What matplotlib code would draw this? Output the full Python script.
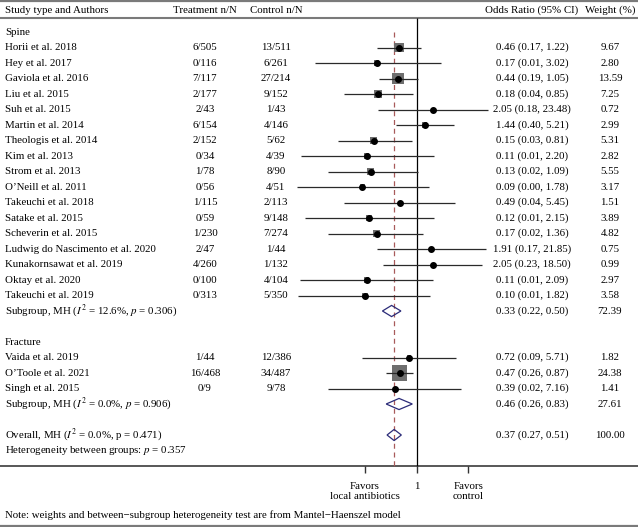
import numpy as np
import matplotlib
matplotlib.use('Agg')
import matplotlib.pyplot as plt
from matplotlib.patches import Polygon

plt.rcParams['font.family'] = 'Liberation Serif'
plt.rcParams['mathtext.fontset'] = 'stix'
plt.rcParams['font.size'] = 7.8

# spine studies
spine_names = ['Horii et al. 2018', 'Hey et al. 2017', 'Gaviola et al. 2016', 'Liu et al. 2015',
               'Suh et al. 2015', 'Martin et al. 2014', 'Theologis et al. 2014', 'Kim et al. 2013',
               'Strom et al. 2013', 'O\u2019Neill et al. 2011', 'Takeuchi et al. 2018', 'Satake et al. 2015',
               'Scheverin et al. 2015', 'Ludwig do Nascimento et al. 2020', 'Kunakornsawat et al. 2019',
               'Oktay et al. 2020', 'Takeuchi et al. 2019']
spine_treat = ['6/505', '0/116', '7/117', '2/177', '2/43', '6/154', '2/152', '0/34', '1/78', '0/56',
               '1/115', '0/59', '1/230', '2/47', '4/260', '0/100', '0/313']
spine_ctrl = ['13/511', '6/261', '27/214', '9/152', '1/43', '4/146', '5/62', '4/39', '8/90', '4/51',
              '2/113', '9/148', '7/274', '1/44', '1/132', '4/104', '5/350']
spine_or = [0.46, 0.17, 0.44, 0.18, 2.05, 1.44, 0.15, 0.11, 0.13, 0.09, 0.49, 0.12, 0.17, 1.91, 2.05, 0.11, 0.10]
spine_lo = [0.17, 0.011, 0.19, 0.04, 0.18, 0.40, 0.03, 0.006, 0.02, 0.0049, 0.04, 0.007, 0.02, 0.17, 0.23, 0.0056, 0.0052]
spine_hi = [1.22, 3.02, 1.05, 0.85, 23.48, 5.21, 0.81, 2.20, 1.09, 1.78, 5.45, 2.15, 1.36, 21.85, 18.50, 2.09, 1.82]
spine_w = [9.67, 2.80, 13.59, 7.25, 0.72, 2.99, 5.31, 2.82, 5.55, 3.17, 1.51, 3.89, 4.82, 0.75, 0.99, 2.97, 3.58]
spine_sub = (0.33, 0.22, 0.50, 72.39)

# fracture studies
frac_names = ['Vaida et al. 2019', 'O\u2019Toole et al. 2021', 'Singh et al. 2015']
frac_treat = ['1/44', '16/468', '0/9']
frac_ctrl = ['12/386', '34/487', '9/78']
frac_or = [0.72, 0.47, 0.39]
frac_lo = [0.09, 0.26, 0.02]
frac_hi = [5.71, 0.87, 7.16]
frac_w = [1.82, 24.38, 1.41]
frac_sub = (0.46, 0.26, 0.83, 27.61)

overall = (0.37, 0.27, 0.51, 100.00)

tick_vals = [0.1, 1, 10]
tick_labels = ['Favors\nlocal antibiotics', '1', 'Favors\ncontrol']

W, H = 638, 527
row_px = 15.5
y0 = 32
ytop = -y0 / row_px
ybot = (H - y0) / row_px

fig = plt.figure(figsize=(W / 100, H / 100), dpi=100)
ax = fig.add_axes([0, 0, 1, 1])
ax.set_xlim(0, W)
ax.set_ylim(ybot, ytop)
ax.axis('off')

# forest panel, log scale: x=1 at px 416.5, 22.5 px per ln unit
fx0, fx1, x1px, k = 280, 510, 416.5, 22.5
axf = fig.add_axes([fx0 / W, 0, (fx1 - fx0) / W, 1])
axf.set_xscale('log')
axf.set_xlim(np.exp((fx0 - x1px) / k), np.exp((fx1 - x1px) / k))
axf.set_ylim(ybot, ytop)
axf.axis('off')

spine_rows = np.arange(1, 18)
frac_rows = np.arange(21, 24)
axis_row = 28

xs_name, xs_tr, xs_ct, xs_or, xs_w = 5, 205, 276, 532, 610

def fmt(o, l, h):
    return f'{o:.2f} ({l:.2f}, {h:.2f})'

# header
hr = -1.38
ax.text(xs_name, hr, 'Study type and Authors', va='center', ha='left')
ax.text(xs_tr, hr, 'Treatment n/N', va='center', ha='center')
ax.text(xs_ct, hr, 'Control n/N', va='center', ha='center')
ax.text(xs_or, hr, 'Odds Ratio (95% CI)', va='center', ha='center')
ax.text(xs_w, hr, 'Weight (%)', va='center', ha='center')

for yl, lw in [(-2.0, 1.6), (-0.88, 1.5), (axis_row, 1.3), (31.87, 1.6)]:
    ax.hlines(yl, 0, W, color='#7a7a7a' if yl != axis_row else '#4a4a4a', lw=lw)

ax.text(xs_name, 0, 'Spine', va='center')
ax.text(xs_name, 20, 'Fracture', va='center')

def draw_group(rows, names, tr, ct, ors, lo, hi, w):
    for r, n, t, c, o, l, h, ww in zip(rows, names, tr, ct, ors, lo, hi, w):
        ax.text(xs_name, r, n, va='center', ha='left')
        ax.text(xs_tr, r, t, va='center', ha='center')
        ax.text(xs_ct, r, c, va='center', ha='center')
        ax.text(xs_or, r, fmt(o, l, h), va='center', ha='center')
        ax.text(xs_w, r, f'{ww:.2f}', va='center', ha='center')
    axf.scatter(ors, rows, s=np.array(w) * 4.8, marker='s', color='#6e6e6e', zorder=2, linewidths=0)
    axf.hlines(rows, lo, hi, color='#2a2a2a', lw=0.9, zorder=3)
    axf.plot(ors, rows, 'o', ms=4, color='black', zorder=4)

draw_group(spine_rows, spine_names, spine_treat, spine_ctrl, spine_or, spine_lo, spine_hi, spine_w)
draw_group(frac_rows, frac_names, frac_treat, frac_ctrl, frac_or, frac_lo, frac_hi, frac_w)

def diamond(r, vals, label):
    o, l, h, w = vals
    axf.add_patch(Polygon([(l, r), (o, r - 0.36), (h, r), (o, r + 0.36)], closed=True,
                          fill=False, edgecolor='#2b2b78', lw=0.9, zorder=5))
    ax.text(xs_name, r, label, va='center', ha='left')
    ax.text(xs_or, r, fmt(o, l, h), va='center', ha='center')
    ax.text(xs_w, r, f'{w:.2f}', va='center', ha='center')

diamond(18, spine_sub, 'Subgroup, MH ($I^2$ = 12.6%, $p$ = 0.306)')
diamond(24, frac_sub, 'Subgroup, MH ($I^2$ = 0.0%, $p$ = 0.906)')
diamond(26, overall, 'Overall, MH ($I^2$ = 0.0%, p = 0.471)')
ax.text(xs_name, 27, 'Heterogeneity between groups: $p$ = 0.357', va='center', ha='left')

# reference lines
axf.vlines(overall[0], 0, axis_row, colors='#a85a5a', linestyles=(0, (4, 3)), lw=0.9, zorder=1)
axf.vlines(1, -0.88, axis_row, colors='black', lw=0.9, zorder=1)

# ticks
axf.vlines(tick_vals, axis_row, axis_row + 0.45, colors='#333333', lw=1)
for tv, tl in zip(tick_vals, tick_labels):
    axf.text(tv, axis_row + 1.0, tl, ha='center', va='top', linespacing=1.2)

ax.text(xs_name, 31.16, 'Note: weights and between\u2212subgroup heterogeneity test are from Mantel\u2212Haenszel model',
        va='center', ha='left')

fig.savefig('out.png', dpi=100)
